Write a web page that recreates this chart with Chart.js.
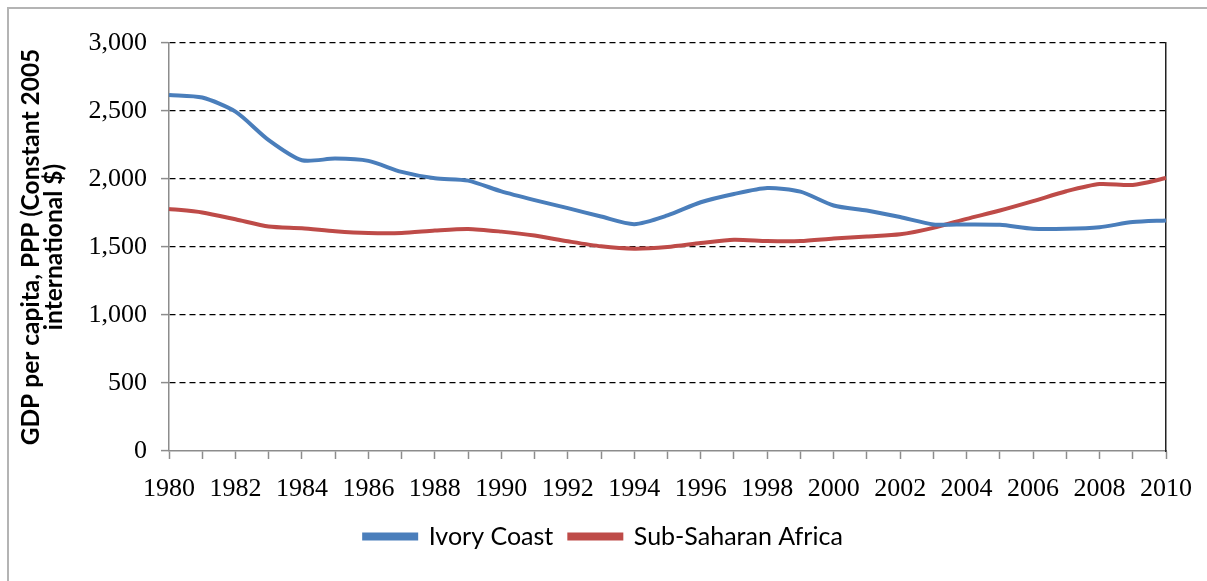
<!DOCTYPE html>
<html>
<head>
<meta charset="utf-8">
<script src="https://cdn.jsdelivr.net/npm/chart.js@4"></script>
<style>
    html, body { margin: 0; padding: 0; background: #fff; }
    body { width: 1207px; height: 581px; position: relative; overflow: hidden; }
    #frame {
        position: absolute; left: 7px; top: 7px; width: 1300px; height: 700px;
        border-left: 2px solid #b4b4b4; border-top: 2px solid #b4b4b4;
    }
    #chart { position: absolute; left: 0; top: 0; }
</style>
</head>
<body>
<div id="frame"></div>
<canvas id="chart" width="1207" height="581"></canvas>
<script>
const years = [];
for (let y = 1980; y <= 2010; y++) years.push(String(y));

const ivoryCoast = [2618, 2599, 2495, 2286, 2138, 2150, 2133, 2052, 2005, 1988,
    1909, 1845, 1786, 1724, 1668, 1732, 1829, 1890, 1934, 1907,
    1805, 1768, 1720, 1666, 1666, 1663, 1634, 1634, 1646, 1683, 1695];

const subSaharan = [1780, 1754, 1704, 1650, 1638, 1616, 1603, 1603, 1621, 1633,
    1613, 1584, 1542, 1505, 1488, 1500, 1529, 1554, 1544, 1544,
    1563, 1578, 1593, 1641, 1707, 1768, 1837, 1910, 1963, 1956, 2007];

const yTicks = [0, 500, 1000, 1500, 2000, 2500, 3000];

const BLUE = "#4a7ebb";
const RED = "#be4b48";
const AXIS_GRAY = "#8c8c8c";

const chart = new Chart(document.getElementById("chart"), {
    type: "line",
    data: {
        labels: years,
        datasets: [
            {
                label: "Ivory Coast",
                data: ivoryCoast,
                borderColor: BLUE,
                backgroundColor: BLUE,
                borderWidth: 4,
                pointRadius: 0,
                tension: 0.25
            },
            {
                label: "Sub-Saharan Africa",
                data: subSaharan,
                borderColor: RED,
                backgroundColor: RED,
                borderWidth: 4,
                pointRadius: 0,
                tension: 0.25
            }
        ]
    },
    options: {
        responsive: false,
        animation: false,
        layout: { padding: { top: 43, bottom: 22, left: 0, right: 0 } },
        plugins: {
            tooltip: { enabled: false },
            legend: {
                position: "bottom",
                labels: {
                    boxWidth: 52,
                    boxHeight: 4,
                    padding: 16,
                    color: "#000",
                    font: { family: "Lato", size: 25 }
                }
            }
        },
        scales: {
            x: {
                grid: {
                    drawOnChartArea: false,
                    drawTicks: true,
                    tickLength: 8,
                    tickColor: AXIS_GRAY,
                    tickWidth: 1.5
                },
                border: { color: AXIS_GRAY, width: 1.5 },
                ticks: {
                    autoSkip: false,
                    maxRotation: 0,
                    padding: 15,
                    color: "#000",
                    font: { family: "Liberation Serif", size: 26 },
                    callback: (v, i) => (i % 2 === 0 ? years[i] : "")
                },
                afterFit: scale => { scale.height = 57; }
            },
            y: {
                min: 0,
                max: 3000,
                afterBuildTicks: scale => {
                    scale.ticks = yTicks.map(v => ({ value: v }));
                },
                grid: {
                    color: ctx => (ctx.tick && ctx.tick.value === 0 ? "rgba(0,0,0,0)" : "#000"),
                    lineWidth: 1.2,
                    tickLength: 8,
                    tickColor: AXIS_GRAY,
                    tickWidth: 1.5
                },
                border: { color: AXIS_GRAY, width: 1.5, dash: [6, 4] },
                ticks: {
                    padding: 14,
                    color: "#000",
                    font: { family: "Liberation Serif", size: 26 },
                    callback: v => v.toLocaleString("en-US")
                },
                title: {
                    display: true,
                    text: ["GDP per capita, PPP (Constant 2005", "international $)"],
                    color: "#000",
                    font: { family: "Lato", size: 24.5, weight: "bold", lineHeight: 0.92 },
                    padding: { top: 20, bottom: 0 }
                },
                afterFit: scale => { scale.width = 169; }
            },
            yRight: {
                position: "right",
                min: 0,
                max: 3000,
                grid: { drawOnChartArea: false, drawTicks: false },
                border: { color: "#222", width: 1.5 },
                ticks: { display: false },
                afterFit: scale => { scale.width = 35; }
            }
        }
    }
});
</script>
</body>
</html>
